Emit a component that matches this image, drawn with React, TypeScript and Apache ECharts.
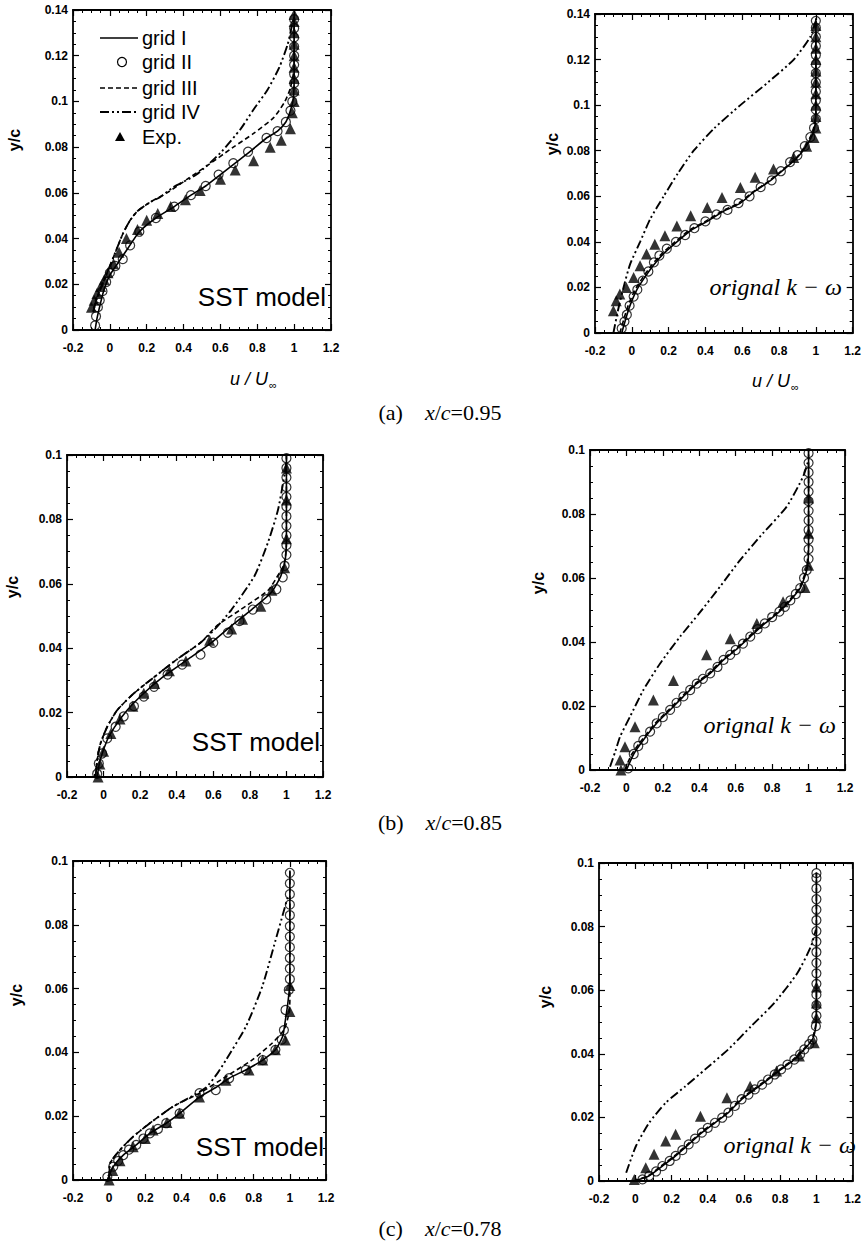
import React, { useEffect, useRef } from "react";
import * as echarts from "echarts";

type P = [number, number];

// ---------- (a) x/c = 0.95, SST model ----------
const aL_g1: P[] = [[-0.08,0],[-0.07,0.005],[-0.05,0.012],[-0.03,0.018],[0,0.024],[0.05,0.03],[0.1,0.036],[0.16,0.043],[0.25,0.049],[0.35,0.054],[0.44,0.059],[0.52,0.063],[0.6,0.068],[0.68,0.073],[0.76,0.078],[0.85,0.084],[0.91,0.087],[0.955,0.091],[0.98,0.096],[0.995,0.101],[1,0.11],[1,0.138]];
const aL_g2: P[] = [[-0.08,0.002],[-0.075,0.006],[-0.065,0.01],[-0.055,0.013],[-0.04,0.017],[-0.02,0.021],[0,0.025],[0.03,0.028],[0.07,0.031],[0.11,0.037],[0.16,0.043],[0.25,0.049],[0.35,0.054],[0.44,0.059],[0.52,0.063],[0.59,0.068],[0.67,0.073],[0.75,0.078],[0.85,0.084],[0.91,0.087],[0.955,0.091],[0.98,0.096],[0.99,0.1],[1,0.104],[1,0.108],[1,0.112],[1,0.116],[1,0.12],[1,0.124],[1,0.128],[1,0.132],[1,0.136]];
const aL_g3: P[] = [[-0.09,0.008],[-0.07,0.014],[-0.02,0.024],[0.035,0.035],[0.07,0.042],[0.11,0.048],[0.15,0.052],[0.22,0.056],[0.31,0.06],[0.42,0.066],[0.53,0.072],[0.67,0.08],[0.78,0.086],[0.89,0.093],[0.95,0.1],[0.98,0.106],[1,0.115],[1,0.138]];
const aL_g4: P[] = [[-0.09,0.008],[-0.07,0.014],[-0.02,0.024],[0.035,0.035],[0.07,0.042],[0.11,0.048],[0.15,0.052],[0.22,0.056],[0.27,0.058],[0.345,0.0625],[0.47,0.068],[0.6,0.0775],[0.71,0.088],[0.78,0.0965],[0.855,0.105],[0.92,0.115],[0.965,0.125],[0.985,0.132],[1,0.137]];
const aL_exp: P[] = [[-0.1,0.01],[-0.085,0.013],[-0.07,0.016],[-0.05,0.019],[-0.03,0.022],[-0.01,0.025],[0.02,0.029],[0.05,0.034],[0.09,0.04],[0.15,0.044],[0.2,0.048],[0.26,0.051],[0.33,0.054],[0.41,0.057],[0.49,0.061],[0.6,0.066],[0.68,0.07],[0.78,0.074],[0.87,0.08],[0.93,0.083],[0.98,0.088],[0.99,0.095],[1,0.1],[1,0.105],[1,0.11],[1,0.115],[1,0.12],[1,0.125],[1,0.13],[1,0.135],[1,0.138]];

// ---------- (a) x/c = 0.95, original k-omega ----------
const aR_g1: P[] = [[-0.055,0],[-0.03,0.007],[-0.01,0.012],[0.025,0.0186],[0.07,0.0244],[0.12,0.03],[0.175,0.035],[0.245,0.04],[0.32,0.045],[0.41,0.049],[0.5,0.0535],[0.59,0.057],[0.665,0.062],[0.755,0.067],[0.83,0.072],[0.9,0.077],[0.955,0.083],[0.99,0.089],[1,0.096],[1,0.138]];
const aR_g2: P[] = [[-0.055,0.002],[-0.04,0.005],[-0.027,0.008],[-0.012,0.012],[0.01,0.016],[0.03,0.019],[0.06,0.023],[0.09,0.027],[0.12,0.031],[0.15,0.034],[0.19,0.037],[0.24,0.04],[0.29,0.043],[0.34,0.046],[0.4,0.049],[0.46,0.052],[0.52,0.054],[0.58,0.057],[0.64,0.06],[0.7,0.064],[0.76,0.067],[0.81,0.071],[0.86,0.075],[0.9,0.078],[0.94,0.082],[0.97,0.086],[0.99,0.09],[1,0.094],[1,0.098],[1,0.102],[1,0.106],[1,0.11],[1,0.114],[1,0.118],[1,0.122],[1,0.126],[1,0.13],[1,0.134],[1,0.137]];
const aR_g3: P[] = [[-0.065,0],[-0.04,0.007],[-0.02,0.012],[0.015,0.0186],[0.06,0.0244],[0.11,0.03],[0.165,0.035],[0.235,0.04],[0.31,0.045],[0.4,0.049],[0.49,0.0535],[0.58,0.057],[0.66,0.062],[0.75,0.067],[0.825,0.072],[0.895,0.077],[0.95,0.083],[0.985,0.089],[1,0.097],[1,0.138]];
const aR_g4: P[] = [[-0.1,0],[-0.075,0.01],[-0.045,0.02],[-0.01,0.03],[0.045,0.04],[0.1,0.05],[0.173,0.06],[0.25,0.07],[0.336,0.08],[0.45,0.09],[0.59,0.1],[0.74,0.11],[0.88,0.12],[0.97,0.13],[1,0.137]];
const aR_exp: P[] = [[-0.1,0.0098],[-0.085,0.0142],[-0.065,0.0171],[-0.03,0.02],[0.01,0.0244],[0.045,0.0295],[0.08,0.0347],[0.125,0.039],[0.18,0.0427],[0.245,0.047],[0.32,0.0515],[0.41,0.0551],[0.49,0.0595],[0.59,0.0639],[0.67,0.0683],[0.77,0.072],[0.88,0.077],[0.95,0.082],[0.99,0.0858],[1,0.09],[1,0.095],[1,0.1],[1,0.105],[1,0.11],[1,0.115],[1,0.12],[1,0.125],[1,0.13],[1,0.135]];

// ---------- (b) x/c = 0.85, SST model ----------
const bL_g1: P[] = [[-0.035,0],[-0.02,0.005],[0.02,0.0115],[0.06,0.0155],[0.13,0.0208],[0.22,0.026],[0.33,0.0313],[0.46,0.0365],[0.59,0.0417],[0.7,0.047],[0.81,0.052],[0.917,0.0573],[0.97,0.0625],[0.994,0.0677],[1,0.075],[1,0.1]];
const bL_g2: P[] = [[-0.035,0.001],[-0.026,0.0042],[-0.008,0.0073],[0.02,0.012],[0.066,0.0156],[0.11,0.0188],[0.166,0.022],[0.22,0.025],[0.276,0.028],[0.35,0.0318],[0.43,0.0349],[0.53,0.038],[0.6,0.0417],[0.68,0.0448],[0.743,0.0484],[0.816,0.052],[0.89,0.0552],[0.945,0.0583],[0.98,0.062],[0.99,0.0656],[1,0.069],[1,0.072],[1,0.075],[1,0.078],[1,0.081],[1,0.084],[1,0.087],[1,0.09],[1,0.093],[1,0.096],[1,0.099]];
const bL_g3: P[] = [[-0.044,0],[-0.035,0.0052],[-0.017,0.0104],[0.02,0.0156],[0.075,0.0208],[0.166,0.026],[0.276,0.031],[0.4,0.0365],[0.53,0.0417],[0.62,0.047],[0.75,0.052],[0.9,0.058],[0.963,0.0635],[0.987,0.066],[1,0.072],[1,0.1]];
const bL_g4: P[] = [[-0.044,0],[-0.035,0.0052],[-0.017,0.0104],[0.02,0.0156],[0.075,0.0208],[0.166,0.026],[0.276,0.031],[0.4,0.0365],[0.53,0.0417],[0.61,0.046],[0.7,0.052],[0.826,0.0625],[0.9,0.073],[0.954,0.083],[0.99,0.094],[1,0.098]];
const bL_exp: P[] = [[-0.03,0],[-0.02,0.004],[0,0.008],[0.04,0.0135],[0.09,0.018],[0.16,0.022],[0.22,0.026],[0.28,0.029],[0.36,0.033],[0.45,0.036],[0.58,0.0425],[0.7,0.046],[0.76,0.049],[0.86,0.053],[0.92,0.058],[0.99,0.065],[1,0.074],[1,0.086],[1,0.096]];

// ---------- (b) x/c = 0.85, original k-omega ----------
const bR_g1: P[] = [[0,0],[0.04,0.005],[0.093,0.0094],[0.166,0.0146],[0.24,0.0188],[0.313,0.023],[0.386,0.027],[0.46,0.0302],[0.533,0.0344],[0.6,0.0375],[0.68,0.0417],[0.76,0.0458],[0.84,0.0495],[0.9,0.053],[0.954,0.0568],[0.99,0.0625],[1,0.069],[1,0.1]];
const bR_g2: P[] = [[0.01,0.0005],[0.04,0.005],[0.065,0.0075],[0.093,0.0094],[0.13,0.012],[0.166,0.0146],[0.2,0.0165],[0.24,0.0188],[0.275,0.021],[0.313,0.023],[0.35,0.025],[0.386,0.027],[0.42,0.0285],[0.46,0.0302],[0.5,0.0322],[0.533,0.0344],[0.57,0.036],[0.6,0.0375],[0.64,0.0395],[0.68,0.0417],[0.72,0.044],[0.76,0.0458],[0.8,0.0478],[0.84,0.0495],[0.87,0.051],[0.9,0.053],[0.93,0.055],[0.954,0.0568],[0.975,0.06],[0.99,0.0625],[1,0.066],[1,0.069],[1,0.072],[1,0.075],[1,0.078],[1,0.081],[1,0.084],[1,0.087],[1,0.09],[1,0.093],[1,0.096],[1,0.099]];
const bR_g3: P[] = [[-0.01,0],[0.03,0.005],[0.085,0.0094],[0.158,0.0146],[0.232,0.0188],[0.305,0.023],[0.378,0.027],[0.452,0.0302],[0.525,0.0344],[0.592,0.0375],[0.672,0.0417],[0.752,0.0458],[0.832,0.0495],[0.893,0.053],[0.948,0.0568],[0.986,0.0625],[1,0.07],[1,0.1]];
const bR_g4: P[] = [[-0.09,0.001],[-0.06,0.006],[-0.035,0.0104],[0.02,0.0167],[0.093,0.025],[0.185,0.0333],[0.295,0.0417],[0.4,0.049],[0.514,0.0573],[0.624,0.0656],[0.75,0.074],[0.88,0.0823],[0.97,0.0917],[1,0.097]];
const bR_exp: P[] = [[-0.03,0],[-0.035,0.0031],[-0.008,0.0073],[0.047,0.0135],[0.148,0.0219],[0.258,0.028],[0.44,0.036],[0.57,0.041],[0.716,0.0458],[0.86,0.0526],[0.98,0.057],[1,0.064],[1,0.074],[1,0.085]];

// ---------- (c) x/c = 0.78, SST model ----------
const cL_g1: P[] = [[-0.01,0],[0.023,0.0042],[0.078,0.0078],[0.15,0.011],[0.225,0.0146],[0.316,0.0178],[0.39,0.0209],[0.5,0.026],[0.59,0.029],[0.664,0.0319],[0.756,0.0345],[0.85,0.0376],[0.92,0.0408],[0.96,0.045],[0.975,0.05],[0.99,0.056],[1,0.062],[1,0.097]];
const cL_g2: P[] = [[-0.01,0.001],[0.023,0.0042],[0.05,0.006],[0.078,0.0078],[0.11,0.0095],[0.15,0.011],[0.19,0.013],[0.225,0.0146],[0.27,0.016],[0.316,0.0178],[0.39,0.0209],[0.5,0.0272],[0.59,0.0282],[0.664,0.0319],[0.756,0.0345],[0.85,0.0376],[0.92,0.0408],[0.955,0.044],[0.967,0.047],[0.976,0.0533],[0.994,0.0596],[1,0.063],[1,0.0663],[1,0.0696],[1,0.073],[1,0.0763],[1,0.0796],[1,0.083],[1,0.0863],[1,0.0896],[1,0.093],[1,0.0963]];
const cL_g3: P[] = [[0,0],[0.005,0.0052],[0.06,0.0094],[0.133,0.0136],[0.225,0.0178],[0.353,0.023],[0.5,0.0272],[0.646,0.0324],[0.79,0.0376],[0.9,0.0428],[0.967,0.047],[0.99,0.051],[1,0.056],[1,0.097]];
const cL_g4: P[] = [[0,0],[0.005,0.0052],[0.06,0.0094],[0.133,0.0136],[0.225,0.0178],[0.353,0.023],[0.45,0.026],[0.536,0.029],[0.6,0.0335],[0.646,0.0376],[0.756,0.048],[0.847,0.0606],[0.92,0.075],[0.965,0.084],[0.99,0.089]];
const cL_exp: P[] = [[0,0],[0.02,0.003],[0.06,0.006],[0.133,0.0104],[0.2,0.013],[0.243,0.0157],[0.32,0.018],[0.39,0.0209],[0.5,0.026],[0.646,0.0313],[0.774,0.0345],[0.85,0.0376],[0.92,0.0408],[0.975,0.0439],[1,0.0528],[1,0.061]];

// ---------- (c) x/c = 0.78, original k-omega ----------
const cR_g1: P[] = [[-0.005,0],[0.077,0.0016],[0.15,0.0047],[0.223,0.0079],[0.295,0.0115],[0.368,0.0152],[0.44,0.0183],[0.514,0.0215],[0.587,0.0257],[0.66,0.0288],[0.733,0.0319],[0.805,0.0351],[0.878,0.0382],[0.933,0.0414],[0.978,0.0445],[0.997,0.0487],[1,0.054],[1,0.097]];
const cR_g2: P[] = [[0.04,0.0005],[0.077,0.0016],[0.115,0.003],[0.15,0.0047],[0.19,0.0063],[0.223,0.0079],[0.26,0.0097],[0.295,0.0115],[0.33,0.0133],[0.368,0.0152],[0.4,0.0167],[0.44,0.0183],[0.48,0.0199],[0.514,0.0215],[0.55,0.0236],[0.587,0.0257],[0.625,0.0272],[0.66,0.0288],[0.7,0.0303],[0.733,0.0319],[0.77,0.0335],[0.805,0.0351],[0.84,0.0366],[0.878,0.0382],[0.91,0.0398],[0.933,0.0414],[0.96,0.043],[0.978,0.0445],[0.997,0.0487],[1,0.052],[1,0.0553],[1,0.0586],[1,0.062],[1,0.0653],[1,0.0686],[1,0.072],[1,0.0753],[1,0.0786],[1,0.082],[1,0.0853],[1,0.0886],[1,0.092],[1,0.0953],[1,0.0968]];
const cR_g3: P[] = [[-0.01,0],[0.07,0.0016],[0.143,0.0047],[0.216,0.0079],[0.288,0.0115],[0.361,0.0152],[0.433,0.0183],[0.507,0.0215],[0.58,0.0257],[0.653,0.0288],[0.726,0.0319],[0.798,0.0351],[0.871,0.0382],[0.928,0.0414],[0.975,0.0445],[0.996,0.049],[1,0.055],[1,0.097]];
const cR_g4: P[] = [[-0.05,0.0026],[0.004,0.011],[0.077,0.0183],[0.168,0.0246],[0.277,0.0298],[0.386,0.0351],[0.514,0.0414],[0.64,0.0487],[0.768,0.056],[0.895,0.0654],[0.97,0.0738],[0.997,0.079]];
const cR_exp: P[] = [[-0.005,0.0005],[0.058,0.0042],[0.104,0.0084],[0.168,0.0126],[0.223,0.0147],[0.36,0.0204],[0.506,0.0262],[0.634,0.0298],[0.78,0.0346],[0.906,0.0393],[0.988,0.0435],[1,0.0513],[1,0.056],[1,0.061]];

// ---------- axes / labels ----------
const xMin = -0.2, xMax = 1.2, xStep = 0.2;
const yStep = 0.02;
const legendNames = ["grid I", "grid II", "grid III", "grid IV", "Exp."];
const captions = [
  { tag: "(a)", value: "0.95" },
  { tag: "(b)", value: "0.85" },
  { tag: "(c)", value: "0.78" },
];
const modelLabels = ["SST model", "orignal k \u2212 \u03C9"];

// layout of each panel (pixels)
const panels = [
  { x0: 73, y0: 10, x1: 331, y1: 330, ymax: 0.14, d: [aL_g1, aL_g2, aL_g3, aL_g4, aL_exp], model: 0, yc: [14, 140] },
  { x0: 595, y0: 14, x1: 854, y1: 333, ymax: 0.14, d: [aR_g1, aR_g2, aR_g3, aR_g4, aR_exp], model: 1, yc: [552, 144] },
  { x0: 67, y0: 455, x1: 323, y1: 777, ymax: 0.1, d: [bL_g1, bL_g2, bL_g3, bL_g4, bL_exp], model: 0, yc: [12, 587] },
  { x0: 590, y0: 450, x1: 845, y1: 770, ymax: 0.1, d: [bR_g1, bR_g2, bR_g3, bR_g4, bR_exp], model: 1, yc: [538, 583] },
  { x0: 73, y0: 861, x1: 326, y1: 1180, ymax: 0.1, d: [cL_g1, cL_g2, cL_g3, cL_g4, cL_exp], model: 0, yc: [16, 995] },
  { x0: 599, y0: 863, x1: 854, y1: 1181, ymax: 0.1, d: [cR_g1, cR_g2, cR_g3, cR_g4, cR_exp], model: 1, yc: [545, 997] },
];
const modelPos = [
  [326, 297], [842, 287],
  [320, 742], [836, 725],
  [324, 1147], [856, 1145],
];
const captionPos = [[440, 412], [440, 822], [440, 1228]];

const SANS = '"Liberation Sans", Arial, sans-serif';
const SERIF = '"Liberation Serif", "Times New Roman", serif';

const DASH3 = [5, 3];
const DASH4 = [9, 3, 2, 3, 2, 3];

export default function App() {
  const ref = useRef<HTMLDivElement>(null);
  useEffect(() => {
    document.body.style.margin = "0";
    const chart = echarts.init(ref.current!, null, { renderer: "svg" });
    const grid: any[] = [];
    const xAxis: any[] = [];
    const yAxis: any[] = [];
    const series: any[] = [];
    const graphic: any[] = [];
    const lineCommon = { show: true, onZero: false, lineStyle: { color: "#000", width: 1.8 } };
    const tickCommon = { show: true, inside: true, length: 6, lineStyle: { color: "#000", width: 1.2 } };
    const minorCommon = { show: true, splitNumber: 4, length: 3, lineStyle: { color: "#000", width: 1 } };
    const labelCommon = { color: "#000", fontFamily: SANS, fontWeight: "bold", fontSize: 12 };

    panels.forEach((p, i) => {
      grid.push({ left: p.x0, top: p.y0, width: p.x1 - p.x0, height: p.y1 - p.y0 });
      const xBase = { gridIndex: i, type: "value", min: xMin, max: xMax, interval: xStep, axisLine: lineCommon, axisTick: tickCommon, minorTick: minorCommon, splitLine: { show: false } };
      xAxis.push({ ...xBase, position: "bottom", axisLabel: { ...labelCommon, margin: 12 } });
      xAxis.push({ ...xBase, position: "top", axisLabel: { show: false } });
      const yBase = { gridIndex: i, type: "value", min: 0, max: p.ymax, interval: yStep, axisLine: lineCommon, axisTick: tickCommon, minorTick: minorCommon, splitLine: { show: false } };
      yAxis.push({ ...yBase, position: "left", axisLabel: { ...labelCommon, margin: 5 } });
      yAxis.push({ ...yBase, position: "right", axisLabel: { show: false } });
      const xi = 2 * i, yi = 2 * i;
      const [g1, g2, g3, g4, ex] = p.d;
      series.push({ name: legendNames[0], type: "line", xAxisIndex: xi, yAxisIndex: yi, data: g1, symbol: "none", smooth: 0.2, lineStyle: { color: "#000", width: 1.6 } });
      series.push({ name: legendNames[2], type: "line", xAxisIndex: xi, yAxisIndex: yi, data: g3, symbol: "none", smooth: 0.2, lineStyle: { color: "#000", width: 1.6, type: DASH3 } });
      series.push({ name: legendNames[3], type: "line", xAxisIndex: xi, yAxisIndex: yi, data: g4, symbol: "none", smooth: 0.2, lineStyle: { color: "#000", width: 1.9, type: DASH4 } });
      series.push({ name: legendNames[1], type: "scatter", xAxisIndex: xi, yAxisIndex: yi, data: g2, symbol: "circle", symbolSize: 9, itemStyle: { color: "rgba(0,0,0,0)", borderColor: "#000", borderWidth: 1.2 } });
      series.push({ name: legendNames[4], type: "scatter", xAxisIndex: xi, yAxisIndex: yi, data: ex, symbol: "triangle", symbolSize: 11, itemStyle: { color: "#000" } });

      graphic.push({ type: "text", x: p.yc[0], y: p.yc[1], rotation: Math.PI / 2, style: { text: "y/c", font: `bold 16px ${SANS}`, fill: "#000", align: "center", verticalAlign: "middle" } });
      const mp = modelPos[i];
      if (p.model === 0) {
        graphic.push({ type: "text", x: mp[0], y: mp[1], style: { text: modelLabels[0], font: `26px ${SANS}`, fill: "#000", align: "right", verticalAlign: "middle" } });
      } else {
        graphic.push({ type: "text", x: mp[0], y: mp[1], style: { text: modelLabels[1], font: `italic 24px ${SERIF}`, fill: "#000", align: "right", verticalAlign: "middle" } });
      }
    });

    [[268, 379], [790, 381]].forEach(([cx, cy]) => {
      graphic.push({ type: "text", x: cx, y: cy, style: { text: "u / U", font: `italic 18px ${SANS}`, fill: "#000", align: "right", verticalAlign: "middle" } });
      graphic.push({ type: "text", x: cx + 1, y: cy + 6, style: { text: "\u221E", font: `11px ${SANS}`, fill: "#000", align: "left", verticalAlign: "middle" } });
    });

    captions.forEach((c, i) => {
      const [cx, cy] = captionPos[i];
      graphic.push({
        type: "text", x: cx, y: cy,
        style: {
          text: `{n|${c.tag}}{n|    }{i|x}{n|/}{i|c}{n|=${c.value}}`,
          align: "center", verticalAlign: "middle",
          rich: {
            n: { fontFamily: SERIF, fontSize: 22, fill: "#000" },
            i: { fontFamily: SERIF, fontSize: 22, fontStyle: "italic", fill: "#000" },
          },
        },
      });
    });

    const lx0 = 100, lx1 = 138, tx = 142;
    const ly = [38, 62, 88, 112, 137];
    graphic.push({ type: "line", shape: { x1: lx0, y1: ly[0], x2: lx1, y2: ly[0] }, style: { stroke: "#000", lineWidth: 1.6 } });
    graphic.push({ type: "circle", shape: { cx: 122, cy: ly[1], r: 4.5 }, style: { fill: "none", stroke: "#000", lineWidth: 1.2 } });
    graphic.push({ type: "line", shape: { x1: lx0, y1: ly[2], x2: lx1, y2: ly[2] }, style: { stroke: "#000", lineWidth: 1.6, lineDash: DASH3 } });
    graphic.push({ type: "line", shape: { x1: lx0, y1: ly[3], x2: lx1, y2: ly[3] }, style: { stroke: "#000", lineWidth: 1.9, lineDash: DASH4 } });
    graphic.push({ type: "polygon", shape: { points: [[120, ly[4] - 5], [115, ly[4] + 4], [125, ly[4] + 4]] }, style: { fill: "#000" } });
    legendNames.forEach((n, k) => {
      graphic.push({ type: "text", x: tx, y: ly[k], style: { text: n, font: `20px ${SANS}`, fill: "#000", align: "left", verticalAlign: "middle" } });
    });

    chart.setOption({ animation: false, backgroundColor: "#fff", grid, xAxis, yAxis, series, graphic });
    return () => chart.dispose();
  }, []);
  return <div ref={ref} style={{ position: "absolute", left: 0, top: 0, width: 864, height: 1242 }} />;
}
